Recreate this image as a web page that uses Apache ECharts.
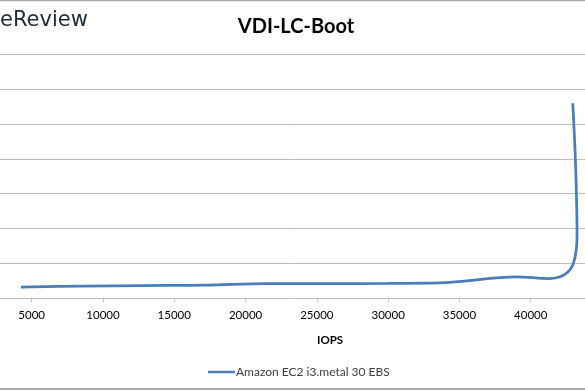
<!DOCTYPE html>
<html>
<head>
<meta charset="utf-8">
<script src="https://cdn.jsdelivr.net/npm/echarts@6/dist/echarts.min.js"></script>
<style>html,body{margin:0;padding:0;background:#fff}#c{width:585px;height:390px}</style>
</head>
<body>
<div id="c"></div>
<script>
var titleText = 'VDI-LC-Boot';
var logoText = 'eReview';
var xAxisTitle = 'IOPS';
var seriesName = 'Amazon EC2 i3.metal 30 EBS';
var iops =    [4250, 8600, 12900, 17200, 21500, 25800, 30000, 34300, 39000, 41300, 42400, 43000, 43250, 43150, 42950];
var latency = [1.58, 1.70, 1.78,  1.85,  2.08,  2.08,  2.10,  2.25,  3.05,  2.80,  3.40,  5.0,   9.0,   19.0,  28.0];
var xMin = 0, xMax = 45000, xStep = 5000;
var yMin = 0, yMax = 35, yStep = 5;

var pts = iops.map(function (v, i) { return [v, latency[i]]; });
var chart = echarts.init(document.getElementById('c'));
chart.setOption({
  animation: false,
  backgroundColor: '#ffffff',
  title: {
    text: titleText, left: 291, top: 12, textAlign: 'center',
    textStyle: { fontFamily: 'Lato', fontWeight: 'bold', fontSize: 20, color: '#000000' }
  },
  legend: {
    left: 203, top: 361, itemWidth: 27, itemHeight: 10, icon: 'path://M0,4L27,4L27,6.5L0,6.5Z',
    itemGap: 2,
    textStyle: { fontFamily: 'Lato', fontSize: 12, color: '#404040', padding: [0, 0, 0, -4] },
    data: [seriesName]
  },
  grid: { left: -39.6, right: -17, top: 54.5, bottom: 92, containLabel: false, outerBoundsMode: 'none' },
  xAxis: {
    type: 'value', min: xMin, max: xMax, interval: xStep,
    axisLine: { show: true, lineStyle: { color: '#bfbfbf', width: 1 } },
    axisTick: { show: true, length: 4, lineStyle: { color: '#bfbfbf' } },
    splitLine: { show: false },
    axisLabel: { fontFamily: 'Lato', fontSize: 11.5, color: '#000000', margin: 11,
      formatter: function (v) { return String(v); } }
  },
  yAxis: {
    type: 'value', min: yMin, max: yMax, interval: yStep,
    axisLine: { show: false }, axisTick: { show: false },
    axisLabel: { show: false },
    splitLine: { show: true, lineStyle: { color: '#bfbfbf', width: 1 } }
  },
  graphic: [
    { type: 'text', left: 0, top: 10, style: { text: logoText, font: '21px "DejaVu Sans"', fill: '#1e2b3a' } },
    { type: 'text', left: 317, top: 334, style: { text: xAxisTitle, font: 'bold 11.5px Lato', fill: '#000000', align: 'center', verticalAlign: 'middle' } },
    { type: 'line', shape: { x1: 0, y1: 0.5, x2: 585, y2: 0.5 }, style: { stroke: '#a6a6a6', lineWidth: 1.5 } },
    { type: 'line', shape: { x1: 0, y1: 389, x2: 585, y2: 389 }, style: { stroke: '#8c8c8c', lineWidth: 1.5 } }
  ],
  series: [{
    name: seriesName, type: 'line', data: pts, smooth: 0.35, symbol: 'none',
    lineStyle: { color: '#4a7ebb', width: 2.75 }, itemStyle: { color: '#4a7ebb' }
  }]
});
</script>
</body>
</html>
